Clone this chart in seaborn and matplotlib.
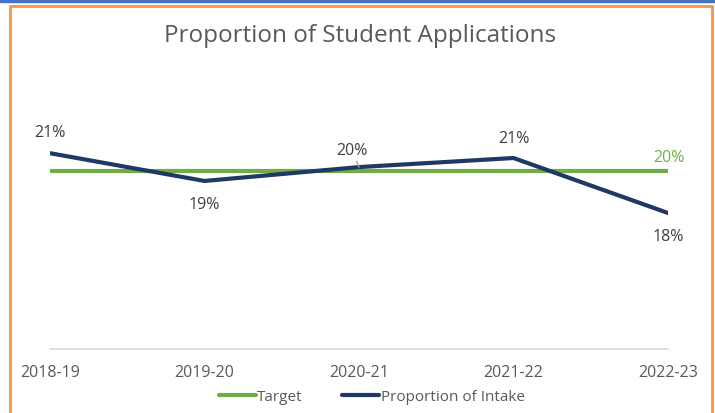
import pandas as pd
import matplotlib.pyplot as plt
import seaborn as sns
from matplotlib.patches import Rectangle

years = ["2018-19", "2019-20", "2020-21", "2021-22", "2022-23"]
target = [20, 20, 20, 20, 20]
intake = [21.0, 19.44, 20.22, 20.73, 17.64]
intake_labels = ["21%", "19%", "20%", "21%", "18%"]

df = pd.DataFrame({
    "year": years * 2,
    "pos": list(range(len(years))) * 2,
    "value": target + intake,
    "series": ["Target"] * len(years) + ["Proportion of Intake"] * len(years),
})

sns.set_style("white")
plt.rcParams["font.family"] = ["Open Sans", "DejaVu Sans"]
grey = "#595959"
dark = "#404040"
navy = "#203864"
green = "#70AD47"

fig = plt.figure(figsize=(7.15, 4.14), dpi=100)
ax = fig.add_axes([50 / 715, 64 / 414, 618 / 715, 267 / 414])

sns.lineplot(data=df, x="pos", y="value", hue="series",
             palette={"Target": green, "Proportion of Intake": navy},
             linewidth=3, ax=ax, legend=False, sort=False)

ax.set_xlim(0, len(years) - 1)
ax.set_ylim(10, 25)
ax.set_xticks(range(len(years)))
ax.set_xticklabels(years, fontsize=11.5, color=grey)
ax.set_yticks([])
ax.set_xlabel("")
ax.set_ylabel("")
ax.tick_params(axis="x", length=0, pad=11)
for s in ["top", "right", "left"]:
    ax.spines[s].set_visible(False)
ax.spines["bottom"].set_color("#D9D9D9")
ax.spines["bottom"].set_linewidth(1.2)

# data labels
offsets = [(0, 21), (0, -23), (-7, 17), (0, 20), (0, -23)]
for i, (lab, off) in enumerate(zip(intake_labels, offsets)):
    kw = {}
    if i == 2:
        kw["arrowprops"] = dict(arrowstyle="-", color="#A6A6A6", lw=1,
                                shrinkA=0, shrinkB=0)
    ax.annotate(lab, (i, intake[i]), xytext=off, textcoords="offset pixels",
                ha="center", va="center", fontsize=11.5, color=dark,
                annotation_clip=False, **kw)
ax.annotate("20%", (len(years) - 1, target[-1]), xytext=(1, 14),
            textcoords="offset pixels", ha="center", va="center",
            fontsize=11.5, color=green, annotation_clip=False)

fig.suptitle("Proportion of Student Applications", x=0.503, y=1 - 36 / 414,
             va="center", fontsize=17.5, color=grey)

handles = [plt.Line2D([], [], color=green, lw=3),
           plt.Line2D([], [], color=navy, lw=3)]
fig.legend(handles, ["Target", "Proportion of Intake"], loc="center",
           bbox_to_anchor=(0.52, 1 - 398 / 414), ncol=2, frameon=False,
           fontsize=11, labelcolor=grey, handlelength=2.4,
           handletextpad=0.1, columnspacing=2.6)

# frame decoration
fig.patches.append(Rectangle((0, 1 - 2.5 / 414), 1, 2.5 / 414,
                             transform=fig.transFigure, color="#4472C4"))
fig.patches.append(Rectangle((10 / 715, -0.05), 702 / 715, 1.05 - 7 / 414,
                             transform=fig.transFigure, fill=False,
                             edgecolor="#F79646", lw=2))

fig.savefig("out.png", dpi=100)
